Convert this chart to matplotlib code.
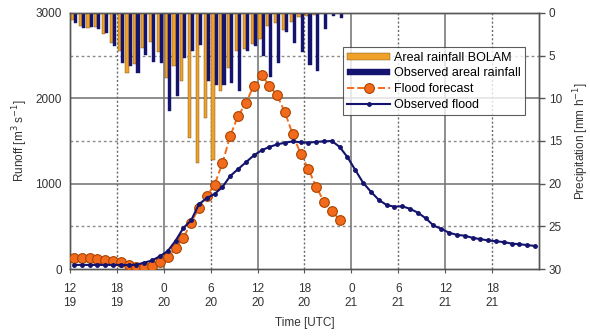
import numpy as np
import matplotlib
matplotlib.use("Agg")
import matplotlib.pyplot as plt

plt.rcParams['font.family'] = ['Liberation Sans', 'DejaVu Sans']

# hourly categories starting 12 UTC on the 19th
hour_labels = ["12\n19", "18\n19", "0\n20", "6\n20", "12\n20", "18\n20",
               "0\n21", "6\n21", "12\n21", "18\n21"]

# areal rainfall [mm/h], one value per hour
rain_bolam = [0.8, 1.5, 1.8, 1.6, 2.5, 3.5, 4.5, 7.0, 6.0, 4.1, 3.4, 4.6,
              7.6, 6.2, 8.0, 14.7, 17.6, 12.3, 17.2, 9.2, 6.5, 4.5, 4.2, 3.6,
              3.0, 1.5, 1.2, 2.0, 1.0, 0.5, 0.3, 0.2, 0.0, 0.0, 0.0, 0.0]
rain_obs = [1.2, 1.8, 1.6, 1.9, 2.4, 3.9, 5.9, 6.2, 7.0, 4.9, 5.7, 5.9,
            11.5, 9.7, 5.3, 4.5, 3.8, 8.0, 8.4, 8.4, 8.2, 9.2, 4.5, 3.9,
            5.0, 7.5, 5.9, 2.2, 3.5, 4.6, 6.1, 6.8, 1.9, 0.3, 0.6, 0.0]

# runoff [m3/s]
flood_forecast = [130, 130, 130, 118, 106, 94, 82, 47, 24, 24, 35, 82, 141,
                  247, 365, 541, 718, 859, 988, 1240, 1560, 1795, 1940, 2150,
                  2270, 2150, 2035, 1835, 1576, 1353, 1170, 960, 790, 680, 576]
flood_obs = [48, 48, 48, 48, 48, 48, 48, 46, 50, 75, 100, 150, 210, 330, 480,
             570, 760, 830, 880, 960, 1090, 1170, 1250, 1330, 1390, 1430, 1460,
             1480, 1495, 1485, 1480, 1490, 1495, 1500, 1430, 1310, 1160, 1010,
             905, 810, 750, 730, 735, 705, 660, 595, 510, 470, 425, 400, 390,
             365, 350, 335, 325, 315, 298, 290, 280, 270]

orange = '#EFA12A'
navy = '#14146E'
fc = '#F26B1D'

fig = plt.figure(figsize=(5.9, 3.36), dpi=100)
ax = fig.add_axes([0.1186, 0.1994, 0.795, 0.762])
axp = ax.twinx()
axl = ax.twinx()

# grid on the bottom axes
for v in [1000, 2000]:
    ax.axhline(v, color='#7a7a7a', lw=1.2, zorder=0)
for v in [500, 1500, 2500]:
    ax.axhline(v, color='#8a8a8a', lw=1.0, ls=(0, (2, 2)), zorder=0)
for h in [12, 24, 36, 48]:
    ax.axvline(h, color='#7a7a7a', lw=1.2, zorder=0)
for h in [6, 18, 30, 42, 54]:
    ax.axvline(h, color='#6a6a6a', lw=1.0, ls=(0, (1.5, 1.5)), zorder=0)

# rainfall bars hanging from the top
hb = np.arange(len(rain_bolam))
b1 = axp.bar(hb + 0.3, rain_bolam, width=0.4, color=orange,
             edgecolor='#6b4a10', lw=0.3, label='Areal rainfall BOLAM')
b2 = axp.bar(hb + 0.7, rain_obs, width=0.4, color=navy,
             edgecolor=navy, lw=0.3, label='Observed areal rainfall')
axp.set_ylim(30, 0)
axp.set_yticks(range(0, 31, 5))
axp.tick_params(axis='y', length=4, width=1, color='#555555',
                labelsize=8.5, labelcolor='#333333', pad=3)
axp.set_ylabel('Precipitation [mm h$^{-1}$]', fontsize=8.5, color='#333333',
               labelpad=7)

# runoff lines on top
l1, = axl.plot(np.arange(len(flood_forecast)) + 0.5, flood_forecast,
               ls='--', color=fc, lw=1.4, marker='o', ms=7, mfc=fc,
               mec='#a84400', mew=0.8, label='Flood forecast')
l2, = axl.plot(np.arange(len(flood_obs)) + 0.5, flood_obs,
               color=navy, lw=1.5, marker='o', ms=2.5, mfc=navy, mec=navy,
               label='Observed flood')
axl.set_ylim(0, 3000)
axl.set_yticks([])
for s in axl.spines.values():
    s.set_visible(False)

ax.set_ylim(0, 3000)
ax.set_xlim(0, 60)
ax.set_yticks([0, 1000, 2000, 3000])
ax.set_xticks(range(0, 60, 6))
ax.set_xticklabels(hour_labels)
ax.tick_params(axis='y', length=0, labelsize=8.5, labelcolor='#333333', pad=6)
ax.tick_params(axis='x', length=3, color='#555555', labelsize=8.5,
               labelcolor='#333333', pad=7)
ax.set_ylabel('Runoff [m$^3$ s$^{-1}$]', fontsize=8.5, color='#333333',
              labelpad=4)
ax.set_xlabel('Time [UTC]', fontsize=8.5, color='#333333', labelpad=6)

for a in (ax, axp):
    for s in a.spines.values():
        s.set_color('#555555')
        s.set_linewidth(1.0)

axp.set_zorder(1)
axl.set_zorder(2)
axp.patch.set_visible(False)
axl.patch.set_visible(False)

leg = axl.legend([b1, b2, l1, l2],
                 [h.get_label() for h in [b1, b2, l1, l2]],
                 loc='upper left', bbox_to_anchor=(0.582, 0.866),
                 fontsize=9, frameon=True, fancybox=False,
                 handlelength=3.4, handleheight=0.45, borderpad=0.35,
                 labelspacing=0.3, handletextpad=0.3, borderaxespad=0)
leg.get_frame().set_edgecolor('#333333')
leg.get_frame().set_linewidth(0.8)

fig.savefig('out.png', dpi=100)
